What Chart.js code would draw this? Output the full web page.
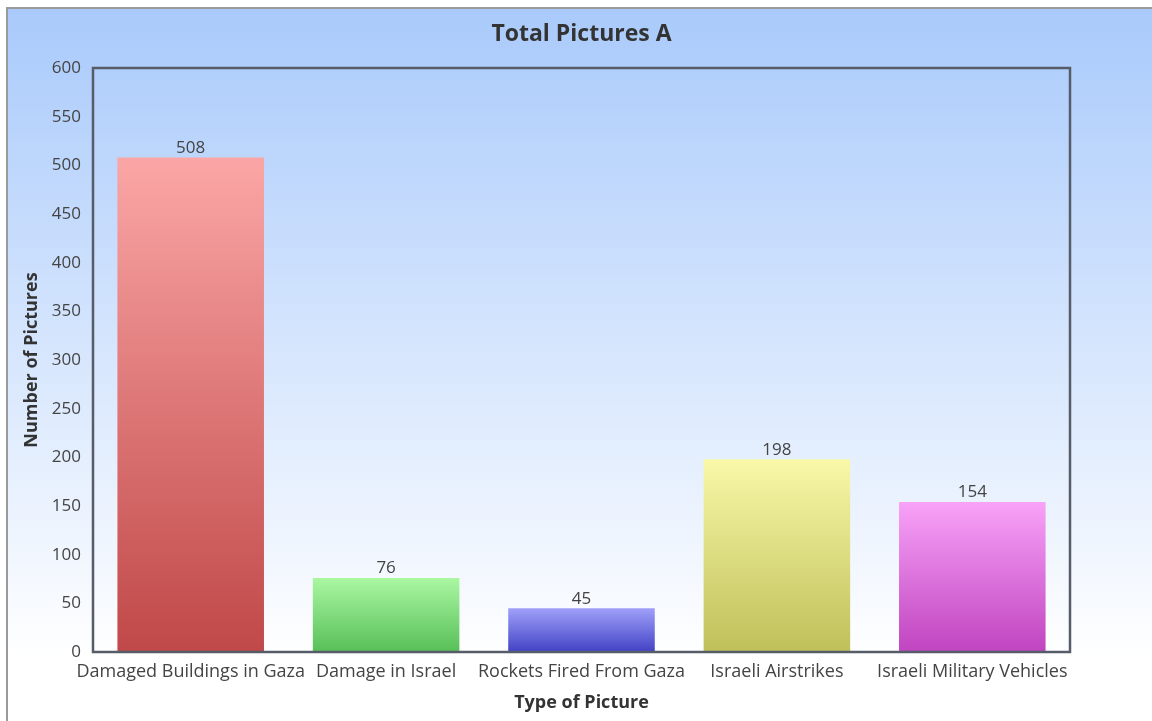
<!DOCTYPE html>
<html>
<head>
<meta charset="utf-8">
<script src="https://cdn.jsdelivr.net/npm/chart.js@4.4.1/dist/chart.umd.min.js"></script>
<style>
  html, body { margin: 0; padding: 0; background: #fff; }
  #wrap { width: 1152px; height: 721px; position: relative; }
</style>
</head>
<body>
<div id="wrap"><canvas id="picturesChart"></canvas></div>
<script>
var chartTitle = "Total Pictures A";
var categories = ["Damaged Buildings in Gaza", "Damage in Israel", "Rockets Fired From Gaza", "Israeli Airstrikes", "Israeli Military Vehicles"];
var pictureCounts = [508, 76, 45, 198, 154];
var topColors = ["#fba6a6", "#aaf7a2", "#a0a0fa", "#f8f8a8", "#f8a2f8"];
var bottomColors = ["#c04848", "#58bf58", "#4242c6", "#c0c05a", "#c044c0"];

var textColor = "#444";
var fontFamily = "'Open Sans', 'Noto Sans', sans-serif";

// page background + outer frame
var backgroundPlugin = {
  id: 'backgroundPlugin',
  beforeDraw: function (chart) {
    var ctx = chart.ctx;
    var w = chart.width, h = chart.height;
    ctx.save();
    var g = ctx.createLinearGradient(0, 8, 0, 660);
    g.addColorStop(0, "#a9cafb");
    g.addColorStop(1, "#ffffff");
    ctx.fillStyle = g;
    ctx.fillRect(8, 9, w - 8, h - 9);
    ctx.strokeStyle = "#9a9a9a";
    ctx.lineWidth = 2;
    ctx.beginPath();
    ctx.moveTo(7, h);
    ctx.lineTo(7, 8);
    ctx.lineTo(w, 8);
    ctx.stroke();
    ctx.restore();
  }
};

// title, box round the plot area and the value labels
var boxAndLabels = {
  id: 'boxAndLabels',
  afterDatasetsDraw: function (chart) {
    var ctx = chart.ctx;
    var a = chart.chartArea;
    ctx.save();
    ctx.strokeStyle = "#565d68";
    ctx.lineWidth = 2.5;
    ctx.strokeRect(a.left, a.top, a.right - a.left, a.bottom - a.top);

    ctx.fillStyle = "#333";
    ctx.font = "bold 23px " + fontFamily;
    ctx.textAlign = "center";
    ctx.textBaseline = "middle";
    ctx.fillText(chartTitle, (a.left + a.right) / 2, 34);

    ctx.fillStyle = textColor;
    ctx.font = "17px " + fontFamily;
    ctx.textBaseline = "bottom";
    chart.getDatasetMeta(0).data.forEach(function (bar, i) {
      ctx.fillText(pictureCounts[i], bar.x, bar.y - 1);
    });
    ctx.restore();
  }
};

var ctx = document.getElementById('picturesChart').getContext('2d');

var chartInstance = new Chart(ctx, {
  type: 'bar',
  data: {
    labels: categories,
    datasets: [{
      data: pictureCounts,
      backgroundColor: function (context) {
        var chart = context.chart;
        var i = context.dataIndex;
        if (!chart.chartArea || i === undefined) return topColors[0];
        var yScale = chart.scales.y;
        var top = yScale.getPixelForValue(pictureCounts[i]);
        var bottom = yScale.getPixelForValue(0);
        var g = chart.ctx.createLinearGradient(0, top, 0, bottom);
        g.addColorStop(0, topColors[i]);
        g.addColorStop(1, bottomColors[i]);
        return g;
      },
      borderWidth: 0,
      categoryPercentage: 0.75,
      barPercentage: 1.0
    }]
  },
  options: {
    responsive: true,
    maintainAspectRatio: false,
    animation: false,
    layout: {
      padding: { top: 68, right: 82, left: 7, bottom: 0 }
    },
    plugins: {
      legend: { display: false },
      tooltip: { enabled: false },
      title: { display: false }
    },
    scales: {
      x: {
        grid: { display: false, drawTicks: false },
        border: { display: false },
        ticks: {
          color: textColor,
          font: { family: fontFamily, size: 18 },
          padding: 9,
          maxRotation: 0,
          autoSkip: false
        },
        title: {
          display: true,
          text: 'Type of Picture',
          color: "#333",
          font: { family: fontFamily, size: 18, weight: 'bold' },
          padding: 7
        },
        afterFit: function (scale) { scale.height = 69; }
      },
      y: {
        min: 0,
        max: 600,
        grid: { display: false, drawTicks: false },
        border: { display: false },
        ticks: {
          stepSize: 50,
          color: textColor,
          font: { family: fontFamily, size: 17 },
          padding: 12
        },
        title: {
          display: true,
          text: 'Number of Pictures',
          color: "#333",
          font: { family: fontFamily, size: 18, weight: 'bold' },
          padding: 14
        },
        afterFit: function (scale) { scale.width = 86; }
      }
    }
  },
  plugins: [backgroundPlugin, boxAndLabels]
});
</script>
</body>
</html>
